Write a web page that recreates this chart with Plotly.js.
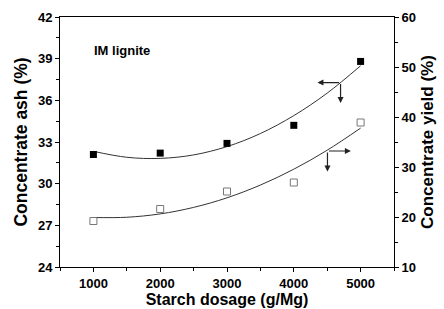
<!DOCTYPE html>
<html><head><meta charset="utf-8">
<script src="https://cdn.plot.ly/plotly-3.0.1.min.js"></script>
<style>html,body{margin:0;padding:0;background:#fff;}#c{width:444px;height:309px;}</style>
</head><body><div id="c"></div>
<script>
// Data
var dosage = [1000, 2000, 3000, 4000, 5000];
var ashValues = [32.1, 32.2, 32.9, 34.2, 38.8];
var yieldValues = [19.2, 21.6, 25.1, 26.9, 38.9];
// Fitted trend curves
var curveX = [1000, 1500, 2000, 2500, 3000, 3500, 4000, 4500, 5000];
var ashCurve = [32.33, 31.90, 31.82, 32.07, 32.67, 33.61, 34.90, 36.52, 38.49];
var yieldCurve = [19.90, 19.95, 20.62, 21.92, 23.84, 26.39, 29.56, 33.36, 37.78];
var xTicks = [1000, 2000, 3000, 4000, 5000];
var ashTicks = [24, 27, 30, 33, 36, 39, 42];
var yieldTicks = [10, 20, 30, 40, 50, 60];

var fam = 'Liberation Sans, Arial, sans-serif';
var font = {family: fam, size: 13, color: '#000', weight: 'bold'};
var xTitleFont = {family: fam, size: 16, color: '#000', weight: 'bold'};
var yTitleFont = {family: fam, size: 17.5, color: '#000', weight: 'bold'};
var y2TitleFont = {family: fam, size: 17, color: '#000', weight: 'bold'};
var lineCol = '#333';

var traces = [
  {x: curveX, y: ashCurve, mode: 'lines', line: {color: lineCol, width: 1, shape: 'spline'}, yaxis: 'y', hoverinfo: 'skip'},
  {x: curveX, y: yieldCurve, mode: 'lines', line: {color: lineCol, width: 1, shape: 'spline'}, yaxis: 'y2', hoverinfo: 'skip'},
  {x: dosage, y: ashValues, mode: 'markers', marker: {symbol: 'square', size: 7, color: '#000'}, yaxis: 'y'},
  {x: dosage, y: yieldValues, mode: 'markers', marker: {symbol: 'square-open', size: 7, color: '#777', line: {width: 1}}, yaxis: 'y2'}
];

function arrow(x, y, ax, ay, yref) {
  return {x: x, y: y, ax: ax, ay: ay, xref: 'x', yref: yref, axref: 'x', ayref: yref,
    text: '', showarrow: true, arrowhead: 2, arrowsize: 1, arrowwidth: 1.2, arrowcolor: '#222', standoff: 0, startstandoff: 0};
}

var layout = {
  width: 444, height: 309,
  margin: {l: 60, r: 50, t: 17, b: 42},
  paper_bgcolor: '#fff', plot_bgcolor: '#fff',
  showlegend: false,
  font: font,
  xaxis: {
    range: [500, 5500], tickvals: xTicks, ticktext: xTicks.map(String),
    ticks: 'outside', ticklen: 4, tickwidth: 1, tickcolor: '#000',
    minor: {dtick: 500, tick0: 500, ticks: 'outside', ticklen: 3, tickcolor: '#000'},
    showline: true, linecolor: '#000', linewidth: 1, mirror: true,
    showgrid: false, zeroline: false, tickfont: font,
    title: {text: 'Starch dosage (g/Mg)', font: xTitleFont, standoff: 4}
  },
  yaxis: {
    range: [24, 42], tickvals: ashTicks, ticktext: ashTicks.map(String),
    ticks: 'outside', ticklen: 4, tickwidth: 1, tickcolor: '#000',
    minor: {dtick: 1.5, tick0: 24, ticks: 'outside', ticklen: 3, tickcolor: '#000'},
    showline: true, linecolor: '#000', linewidth: 1,
    showgrid: false, zeroline: false, tickfont: font,
    title: {text: 'Concentrate ash (%)', font: yTitleFont, standoff: 5}
  },
  yaxis2: {
    range: [10, 60], tickvals: yieldTicks, ticktext: yieldTicks.map(String),
    overlaying: 'y', side: 'right',
    ticks: 'outside', ticklen: 4, tickwidth: 1, tickcolor: '#000',
    minor: {dtick: 5, tick0: 10, ticks: 'outside', ticklen: 3, tickcolor: '#000'},
    showline: true, linecolor: '#000', linewidth: 1,
    showgrid: false, zeroline: false, tickfont: font,
    title: {text: 'Concentrate yield (%)', font: y2TitleFont, standoff: 6}
  },
  annotations: [
    {x: 0.095, y: 0.865, xref: 'paper', yref: 'paper', xanchor: 'left', yanchor: 'middle',
     text: 'IM lignite', showarrow: false, font: {family: fam, size: 13, color: '#000', weight: 'bold'}},
    arrow(4354, 37.28, 4700, 37.28, 'y'),
    arrow(4700, 35.8, 4700, 37.28, 'y'),
    arrow(4854, 33.2, 4504, 33.2, 'y2'),
    arrow(4504, 29.1, 4504, 33.2, 'y2')
  ]
};

Plotly.newPlot('c', traces, layout, {staticPlot: true, displayModeBar: false});
</script>
</body></html>
